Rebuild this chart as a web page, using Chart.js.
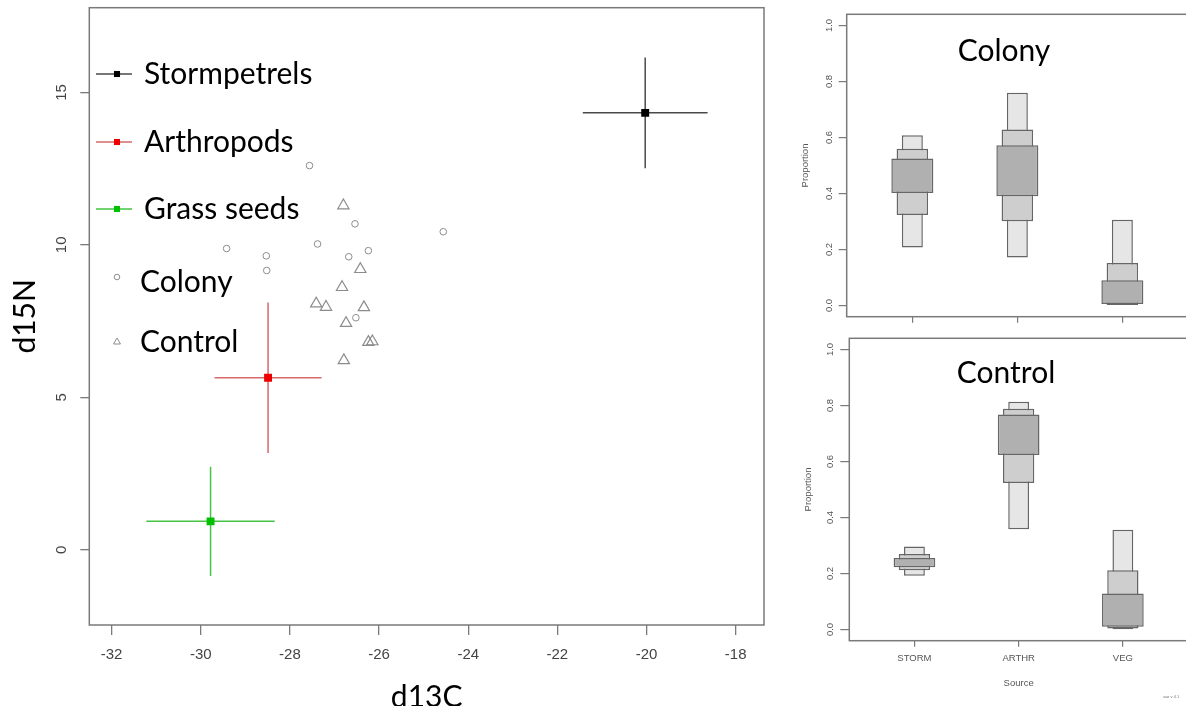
<!DOCTYPE html>
<html>
<head>
<meta charset="utf-8">
<script src="https://cdn.jsdelivr.net/npm/chart.js@4/dist/chart.umd.min.js"></script>
<style>
  html, body { margin: 0; padding: 0; background: #fff; overflow: hidden; width: 1186px; height: 706px; }
  canvas { position: absolute; }
  #isoChart { left: 0; top: 0; }
  #colonyChart { left: 780px; top: 0; }
  #controlChart { left: 780px; top: 330px; }
</style>
</head>
<body>
<canvas id="isoChart" width="790" height="720"></canvas>
<canvas id="colonyChart" width="410" height="330"></canvas>
<canvas id="controlChart" width="410" height="376"></canvas>
<script>
// sources: mean and sd of d13C / d15N
const sourceNames = ['Stormpetrels', 'Arthropods', 'Grass seeds'];
const sourceMeanC = [-20.03, -28.49, -29.78];
const sourceSdC = [1.40, 1.20, 1.44];
const sourceMeanN = [14.33, 5.64, 0.93];
const sourceSdN = [1.82, 2.47, 1.79];

// consumers
const groupNames = ['Colony', 'Control'];
const colonyC = [-27.56, -26.54, -24.56, -29.42, -27.38, -26.24, -26.68, -28.53, -28.52, -26.52];
const colonyN = [12.60, 10.69, 10.43, 9.88, 10.03, 9.81, 9.61, 9.64, 9.16, 7.61];
const controlC = [-26.80, -26.42, -26.83, -27.41, -27.19, -26.34, -26.74, -26.24, -26.15, -26.79];
const controlN = [11.29, 9.20, 8.61, 8.07, 7.96, 7.95, 7.43, 6.81, 6.83, 6.21];

// siar proportions (95, 75, 50 % intervals) per source
const propSources = ['STORM', 'ARTHR', 'VEG'];
const colony95 = [[0.207, 0.608], [0.171, 0.760], [0.002, 0.306]];
const colony75 = [[0.323, 0.560], [0.301, 0.629], [0.002, 0.152]];
const colony50 = [[0.402, 0.525], [0.390, 0.572], [0.005, 0.090]];
const control95 = [[0.192, 0.296], [0.358, 0.813], [0.001, 0.356]];
const control75 = [[0.212, 0.270], [0.523, 0.788], [0.004, 0.212]];
const control50 = [[0.222, 0.255], [0.623, 0.768], [0.010, 0.129]];

// styles
const sourceLineColors = ['#4a4a4a', '#d66a6a', '#45c445'];
const sourceMarkColors = ['#000000', '#ee0000', '#00c000'];
const groupColor = '#8c8c8c';
const axisGrey = '#7a7a7a';
const bigFont = 'Lato';
const smallFont = 'Liberation Sans';

// box around the plot area, like R's box()
const boxPlugin = {
    id: 'box',
    afterDraw(chart) {
        const a = chart.chartArea;
        const ctx = chart.ctx;
        ctx.save();
        ctx.strokeStyle = axisGrey;
        ctx.lineWidth = 1.5;
        ctx.strokeRect(a.left, a.top, a.right - a.left, a.bottom - a.top);
        ctx.restore();
    }
};

// legend in the top-left of the isotope plot
const isoLegend = {
    id: 'isoLegend',
    afterDraw(chart) {
        const ctx = chart.ctx;
        const rowY = [74, 142, 209, 279, 342];
        ctx.save();
        ctx.font = '30px ' + bigFont;
        ctx.fillStyle = '#000';
        ctx.textBaseline = 'middle';
        sourceNames.forEach((name, i) => {
            ctx.strokeStyle = sourceLineColors[i];
            ctx.lineWidth = 1.5;
            ctx.beginPath();
            ctx.moveTo(96, rowY[i]);
            ctx.lineTo(132, rowY[i]);
            ctx.stroke();
            ctx.fillStyle = sourceMarkColors[i];
            Chart.helpers.drawPoint(ctx, {pointStyle: 'rect', radius: 4.3, borderWidth: 0}, 117, rowY[i]);
            ctx.fillStyle = '#000';
            ctx.fillText(name, 144, rowY[i]);
        });
        const styles = ['circle', 'triangle'];
        const radii = [2.8, 4];
        groupNames.forEach((name, j) => {
            const y = rowY[3 + j];
            ctx.strokeStyle = groupColor;
            ctx.fillStyle = 'rgba(0,0,0,0)';
            ctx.lineWidth = 1;
            Chart.helpers.drawPoint(ctx, {pointStyle: styles[j], radius: radii[j], borderWidth: 1}, 117, y - (j === 0 ? 2 : 0));
            ctx.fillStyle = '#000';
            ctx.fillText(name, 140, y + (j === 0 ? 3 : 0));
        });
        ctx.restore();
    }
};

// panel title and version stamp drawn inside the siar plots
const panelText = {
    id: 'panelText',
    afterDraw(chart, args, opts) {
        const ctx = chart.ctx;
        ctx.save();
        ctx.font = '30px ' + bigFont;
        ctx.fillStyle = '#000';
        ctx.textAlign = 'center';
        ctx.textBaseline = 'middle';
        ctx.fillText(opts.text, opts.x, opts.y);
        if (opts.stamp) {
            ctx.font = '4px ' + smallFont;
            ctx.fillStyle = '#777';
            ctx.textAlign = 'left';
            ctx.fillText(opts.stamp, 383, 367);
        }
        ctx.restore();
    }
};

// keep the plot area where the axis boxes put it, ignore label overhang
function fixV(w) {
    return s => { s.width = w; s.paddingTop = 0; s.paddingBottom = 0; };
}
function fixH(h) {
    return s => { s.height = h; s.paddingLeft = 0; s.paddingRight = 0; };
}

// build datasets for the isotope plot
const isoDatasets = [];
sourceNames.forEach((name, i) => {
    isoDatasets.push({
        type: 'line', order: 1,
        data: [{x: sourceMeanC[i] - sourceSdC[i], y: sourceMeanN[i]}, {x: sourceMeanC[i] + sourceSdC[i], y: sourceMeanN[i]}],
        borderColor: sourceLineColors[i], borderWidth: 1.5, pointRadius: 0, fill: false
    });
    isoDatasets.push({
        type: 'line', order: 1,
        data: [{x: sourceMeanC[i], y: sourceMeanN[i] - sourceSdN[i]}, {x: sourceMeanC[i], y: sourceMeanN[i] + sourceSdN[i]}],
        borderColor: sourceLineColors[i], borderWidth: 1.5, pointRadius: 0, fill: false
    });
    isoDatasets.push({
        label: name, order: 0,
        data: [{x: sourceMeanC[i], y: sourceMeanN[i]}],
        pointStyle: 'rect', pointRadius: 5.6, borderWidth: 0,
        backgroundColor: sourceMarkColors[i], borderColor: sourceMarkColors[i]
    });
});
isoDatasets.push({
    label: groupNames[0], order: 0,
    data: colonyC.map((c, i) => ({x: c, y: colonyN[i]})),
    pointStyle: 'circle', pointRadius: 3.3, borderWidth: 1,
    borderColor: groupColor, backgroundColor: 'rgba(0,0,0,0)'
});
isoDatasets.push({
    label: groupNames[1], order: 0,
    data: controlC.map((c, i) => ({x: c, y: controlN[i]})),
    pointStyle: 'triangle', pointRadius: 6.5, borderWidth: 1.2,
    borderColor: groupColor, backgroundColor: 'rgba(0,0,0,0)'
});

const tickFont = {family: smallFont, size: 15};

new Chart(document.getElementById('isoChart').getContext('2d'), {
    type: 'scatter',
    data: { datasets: isoDatasets },
    options: {
        responsive: false,
        animation: false,
        devicePixelRatio: 1,
        layout: { padding: {left: 0, top: 6.7, right: 26, bottom: 0} },
        plugins: { legend: {display: false}, tooltip: {enabled: false} },
        scales: {
            x: {
                type: 'linear', min: -32.5, max: -17.365,
                afterFit: fixH(95),
                ticks: { stepSize: 2, includeBounds: false, padding: 11, color: '#444', font: tickFont, maxRotation: 0, autoSkip: false },
                grid: { drawOnChartArea: false, tickLength: 10, color: axisGrey, lineWidth: 1.3 },
                border: { display: false },
                title: { display: true, text: 'd13C', color: '#000', font: {family: bigFont, size: 30}, padding: {top: 0, bottom: 5} }
            },
            y: {
                type: 'linear', min: -2.47, max: 17.78,
                afterFit: fixV(89.3),
                ticks: { stepSize: 5, includeBounds: false, minRotation: 90, maxRotation: 90, crossAlign: 'center', padding: 10, color: '#444', font: tickFont },
                grid: { drawOnChartArea: false, tickLength: 9, color: axisGrey, lineWidth: 1.3 },
                border: { display: false },
                title: { display: true, text: 'd15N', color: '#000', font: {family: bigFont, size: 30}, padding: {top: 7, bottom: 0} }
            }
        }
    },
    plugins: [boxPlugin, isoLegend]
});

// siar proportion plot, three nested interval bars per source
function propChart(canvasId, title, p95, p75, p50, g) {
    const barSet = (vals, pct, colour, ord) => ({
        data: propSources.map((s, i) => ({x: i + 1, y: vals[i]})),
        backgroundColor: colour, borderColor: '#666666', borderWidth: 1.5,
        borderSkipped: false, grouped: false, order: ord,
        categoryPercentage: 1, barPercentage: pct
    });
    const small = {family: smallFont, size: 9.5};
    new Chart(document.getElementById(canvasId).getContext('2d'), {
        type: 'bar',
        data: {
            datasets: [
                barSet(p50, 0.4, '#b0b0b0', 0),
                barSet(p75, 0.3, '#cecece', 1),
                barSet(p95, 0.2, '#e6e6e6', 2)
            ]
        },
        options: {
            responsive: false,
            animation: false,
            devicePixelRatio: 1,
            layout: { padding: {left: 0, top: g.top, right: 2, bottom: 0} },
            plugins: {
                legend: {display: false}, tooltip: {enabled: false},
                panelText: { text: title, x: g.titleX, y: g.titleY, stamp: g.stamp }
            },
            scales: {
                x: {
                    type: 'linear', min: 0.375, max: 3.625, offset: false,
                    afterFit: fixH(g.xHeight),
                    ticks: {
                        stepSize: 1, includeBounds: false, padding: 6, color: '#555', font: small, maxRotation: 0, autoSkip: false,
                        callback: v => g.labels ? (propSources[v - 1] || '') : ''
                    },
                    grid: { offset: false, drawOnChartArea: false, tickLength: 6, color: axisGrey, lineWidth: 1.2 },
                    border: { display: false },
                    title: { display: g.labels, text: 'Source', color: '#555', font: small, padding: {top: 0, bottom: 17} }
                },
                y: {
                    type: 'linear', min: -0.04, max: 1.04,
                    afterFit: fixV(g.yWidth),
                    ticks: {
                        stepSize: 0.2, includeBounds: false, minRotation: 90, maxRotation: 90, crossAlign: 'center',
                        padding: 3, color: '#555', font: small, callback: v => v.toFixed(1)
                    },
                    grid: { drawOnChartArea: false, tickLength: g.tick, color: axisGrey, lineWidth: 1.2 },
                    border: { display: false },
                    title: { display: true, text: 'Proportion', color: '#555', font: small, padding: {top: g.propPad, bottom: 0} }
                }
            }
        },
        plugins: [boxPlugin, panelText]
    });
}

propChart('colonyChart', groupNames[0], colony95, colony75, colony50,
    {top: 14.3, xHeight: 13.3, yWidth: 66.7, tick: 8, propPad: 19.3, titleX: 224, titleY: 51, labels: false});
propChart('controlChart', groupNames[1], control95, control75, control50,
    {top: 8.3, xHeight: 65.3, yWidth: 69.3, tick: 9, propPad: 22.3, titleX: 226, titleY: 43, labels: true, stamp: 'siar v 4.1'});
</script>
</body>
</html>
